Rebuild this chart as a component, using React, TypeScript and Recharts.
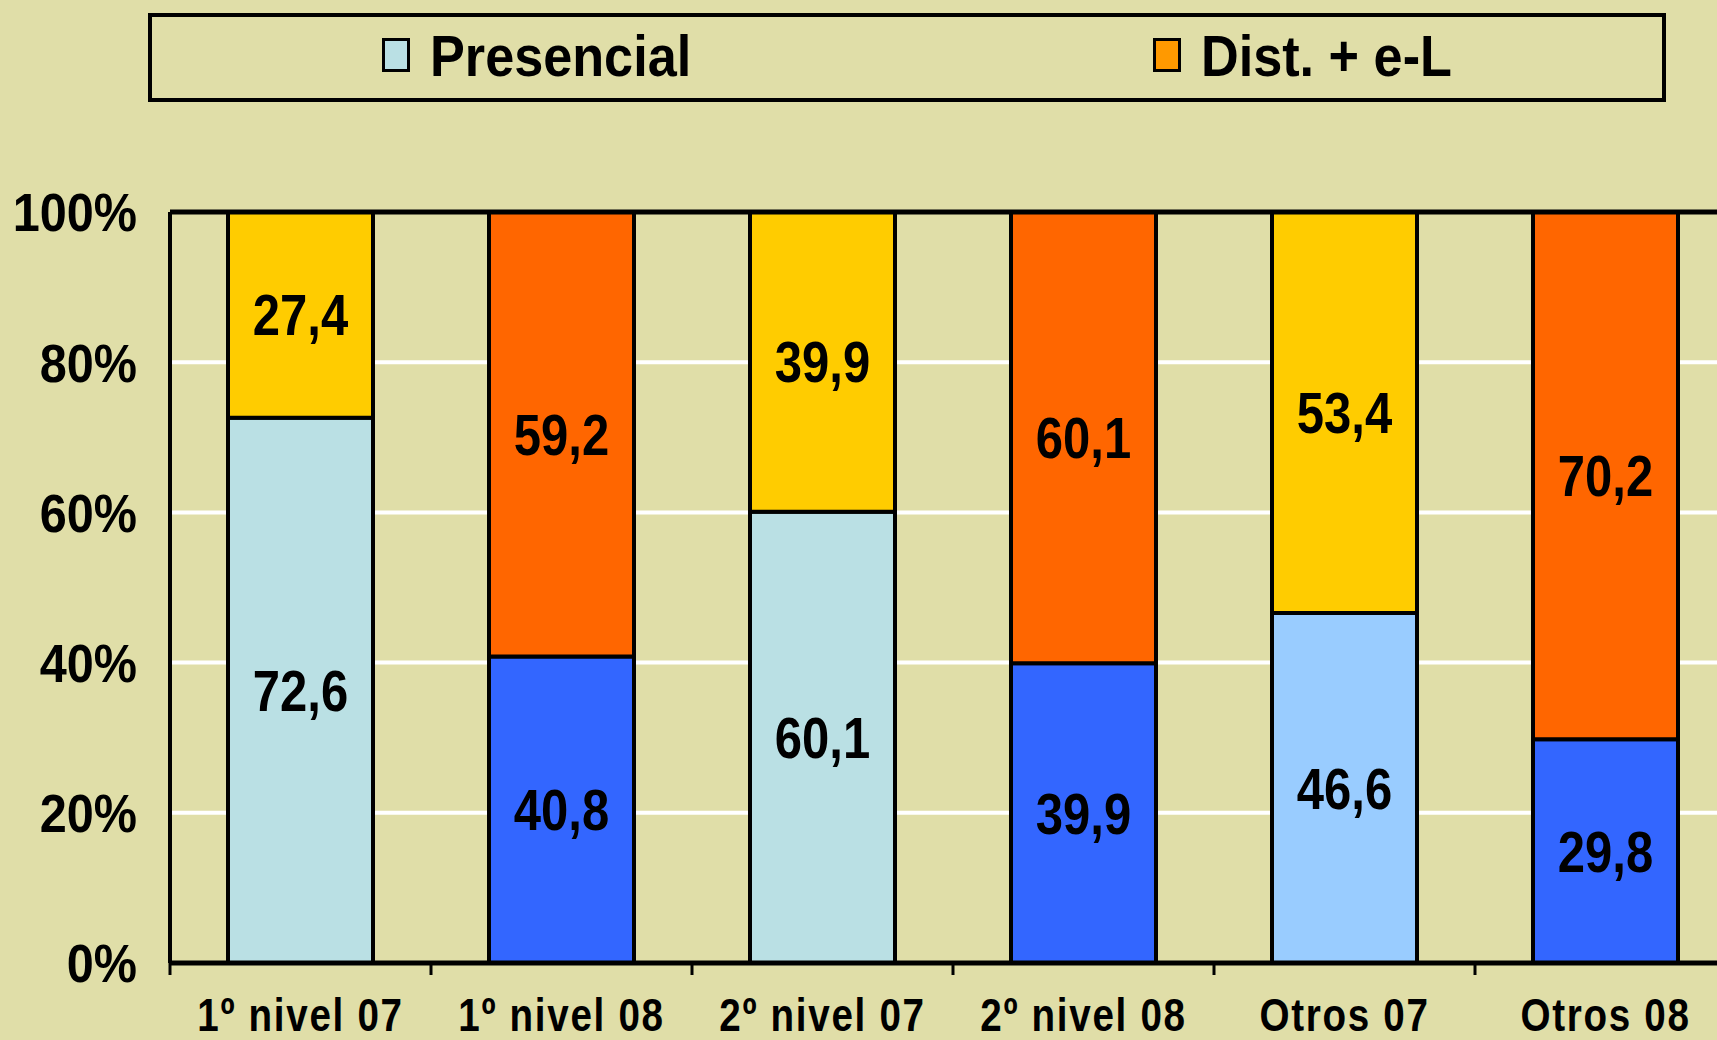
import { BarChart, Bar, XAxis, YAxis, CartesianGrid, Cell, LabelList, ReferenceLine } from 'recharts'

const categories = ['1º nivel 07', '1º nivel 08', '2º nivel 07', '2º nivel 08', 'Otros 07', 'Otros 08']
const presencial = [72.6, 40.8, 60.1, 39.9, 46.6, 29.8]
const distancia = [27.4, 59.2, 39.9, 60.1, 53.4, 70.2]
const yTicks = [0, 20, 40, 60, 80, 100]

const presencialColors = ['#BAE0E4', '#3366FF', '#BAE0E4', '#3366FF', '#99CCFF', '#3366FF']
const distanciaColors = ['#FFCC00', '#FF6600', '#FFCC00', '#FF6600', '#FFCC00', '#FF6600']

const data = categories.map((name, i) => ({
  name,
  presencial: presencial[i],
  distancia: distancia[i],
}))

// no narrow font installed, so the regular one is squeezed sideways
const FONT = '"Liberation Sans Narrow", "Arial Narrow", "Liberation Sans", Arial, sans-serif'
const BG = '#E0DEA8'
const PLOT_LEFT = 170
const BAND = 261
const CHART_W = PLOT_LEFT + BAND * 6 + 8

const fmt = (v: any) => Number(v).toFixed(1).replace('.', ',')

function XTick(props: any) {
  const { x, y, payload, index } = props
  return (
    <g>
      <line x1={x - BAND / 2} x2={x - BAND / 2} y1={y} y2={y + 12} stroke="#000" strokeWidth={3} />
      {index === categories.length - 1 && (
        <line x1={x + BAND / 2} x2={x + BAND / 2} y1={y} y2={y + 12} stroke="#000" strokeWidth={3} />
      )}
      <text
        transform={`translate(${x},${y + 68}) scale(0.84,1)`}
        textAnchor="middle"
        fontFamily={FONT}
        fontWeight="bold"
        fontSize={46}
        letterSpacing={2}
        fill="#000"
      >
        {payload.value}
      </text>
    </g>
  )
}

function YTick(props: any) {
  const { x, y, payload } = props
  return (
    <text
      transform={`translate(${x - 33},${y}) scale(0.9,1)`}
      dy="0.36em"
      textAnchor="end"
      fontFamily={FONT}
      fontWeight="bold"
      fontSize={54}
      fill="#000"
    >
      {payload.value}%
    </text>
  )
}

function BarLabel(props: any) {
  const { x, y, width, height, value } = props
  return (
    <text
      transform={`translate(${x + width / 2},${y + height / 2}) scale(0.86,1)`}
      dy="0.36em"
      textAnchor="middle"
      fontFamily={FONT}
      fontWeight="bold"
      fontSize={57}
      fill="#000"
    >
      {fmt(value)}
    </text>
  )
}

function LegendBox() {
  const items = [
    { label: 'Presencial', color: '#BAE0E4', left: 230 },
    { label: 'Dist. + e-L', color: '#FF9900', left: 1001 },
  ]
  return (
    <div
      style={{
        position: 'absolute',
        left: 148,
        top: 13,
        width: 1518,
        height: 89,
        border: '4px solid #000',
        boxSizing: 'border-box',
        background: BG,
      }}
    >
      {items.map((it) => (
        <div
          key={it.label}
          style={{
            position: 'absolute',
            left: it.left,
            top: 7,
            display: 'flex',
            alignItems: 'center',
            height: 62,
          }}
        >
          <div
            style={{
              width: 28,
              height: 34,
              background: it.color,
              border: '3px solid #000',
              boxSizing: 'border-box',
              marginRight: 20,
            }}
          />
          <span
            style={{
              fontFamily: FONT,
              fontWeight: 'bold',
              fontSize: 58,
              color: '#000',
              display: 'inline-block',
              transform: 'scaleX(0.9)',
              transformOrigin: 'left center',
              whiteSpace: 'nowrap',
            }}
          >
            {it.label}
          </span>
        </div>
      ))}
    </div>
  )
}

export default function App() {
  return (
    <div
      style={{
        position: 'absolute',
        left: 0,
        top: 0,
        width: 1717,
        height: 1040,
        overflow: 'hidden',
        background: BG,
      }}
    >
      <LegendBox />
      <div style={{ position: 'absolute', left: 0, top: 0 }}>
        <BarChart
          width={CHART_W}
          height={1040}
          data={data}
          margin={{ top: 212, right: 8, bottom: 0, left: 0 }}
          barCategoryGap={58}
        >
          <CartesianGrid horizontal vertical={false} stroke="#FFFFFF" strokeWidth={4} />
          <XAxis
            dataKey="name"
            height={77}
            tickLine={false}
            tickSize={0}
            tickMargin={0}
            axisLine={{ stroke: '#000', strokeWidth: 5 }}
            tick={<XTick />}
            interval={0}
          />
          <YAxis
            width={PLOT_LEFT}
            domain={[0, 100]}
            ticks={yTicks}
            tickLine={false}
            tickSize={0}
            tickMargin={0}
            axisLine={{ stroke: '#000', strokeWidth: 4 }}
            tick={<YTick />}
            interval={0}
          />
          <ReferenceLine y={100} stroke="#000" strokeWidth={5} />
          <Bar dataKey="presencial" stackId="a" stroke="#000" strokeWidth={4} isAnimationActive={false}>
            {data.map((_, i) => (
              <Cell key={i} fill={presencialColors[i]} />
            ))}
            <LabelList dataKey="presencial" content={<BarLabel />} />
          </Bar>
          <Bar dataKey="distancia" stackId="a" stroke="#000" strokeWidth={4} isAnimationActive={false}>
            {data.map((_, i) => (
              <Cell key={i} fill={distanciaColors[i]} />
            ))}
            <LabelList dataKey="distancia" content={<BarLabel />} />
          </Bar>
        </BarChart>
      </div>
    </div>
  )
}
